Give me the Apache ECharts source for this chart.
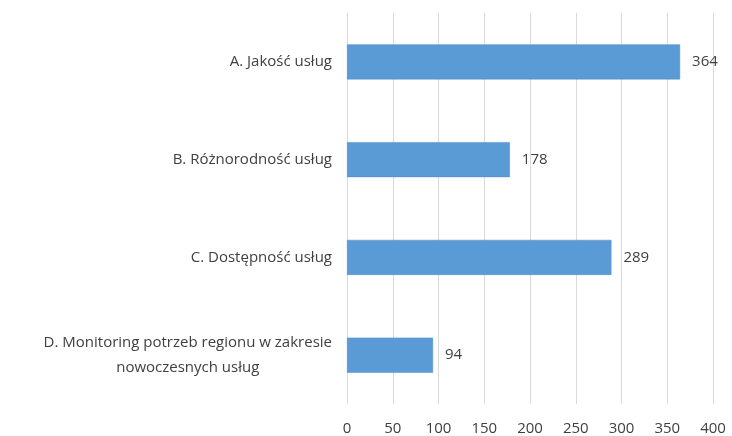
<!DOCTYPE html>
<html>
<head>
<meta charset="utf-8">
<script src="https://cdn.jsdelivr.net/npm/echarts@6/dist/echarts.min.js"></script>
<style>html,body{margin:0;padding:0;background:#fff;}#c{width:732px;height:436px;}</style>
</head>
<body>
<div id="c"></div>
<script>
var categories = ['A. Jakość usług', 'B. Różnorodność usług', 'C. Dostępność usług', 'D. Monitoring potrzeb regionu w zakresie\nnowoczesnych usług'];
var values = [364, 178, 289, 94];
var xTicks = [0, 50, 100, 150, 200, 250, 300, 350, 400];

var FONT = '"Open Sans", Lato, sans-serif';
var chart = echarts.init(document.getElementById('c'));
chart.setOption({
  animation: false,
  backgroundColor: '#ffffff',
  textStyle: { fontFamily: FONT },
  grid: { left: 347, right: 19, top: 13, bottom: 31, containLabel: false },
  xAxis: {
    type: 'value', min: xTicks[0], max: xTicks[xTicks.length - 1], interval: 50,
    axisLine: { show: false }, axisTick: { show: false },
    splitLine: { show: true, lineStyle: { color: '#d9d9d9', width: 1 } },
    axisLabel: { color: '#404040', fontSize: 15, margin: 17, fontFamily: FONT }
  },
  yAxis: {
    type: 'category', data: categories, inverse: true,
    axisLine: { show: false }, axisTick: { show: false },
    axisLabel: {
      color: '#404040', fontSize: 15, margin: 15, fontFamily: FONT,
      formatter: function (v) {
        return v.split('\n').map(function (s) { return '{c|' + s + '}'; }).join('\n');
      },
      rich: { c: { align: 'center', fontSize: 15, color: '#404040', fontFamily: FONT, lineHeight: 25 } }
    }
  },
  series: [{
    type: 'bar', data: values, barWidth: 35,
    itemStyle: { color: '#5b9bd5', borderColor: '#4a8ac8', borderWidth: 0.5 },
    label: { show: true, position: 'right', distance: 12, color: '#404040', fontSize: 15, fontFamily: FONT }
  }]
});
</script>
</body>
</html>
